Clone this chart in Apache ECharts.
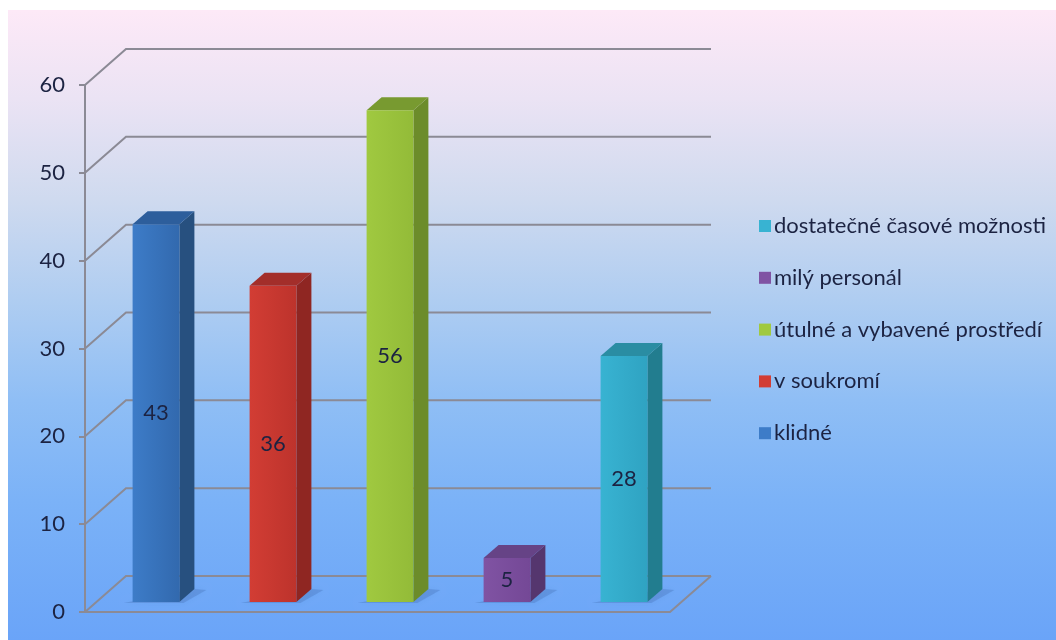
<!DOCTYPE html>
<html>
<head>
<meta charset="utf-8">
<script src="https://cdn.jsdelivr.net/npm/echarts@6/dist/echarts.min.js"></script>
<style>
  html, body { margin: 0; padding: 0; background: #ffffff; }
  #chart { width: 1056px; height: 640px; }
</style>
</head>
<body>
<div id="chart"></div>
<script>
// Survey answers: what respondents valued about the environment
const categories = ['klidné', 'v soukromí', 'útulné a vybavené prostředí', 'milý personál', 'dostatečné časové možnosti'];
const values = [43, 36, 56, 5, 28];
const yTicks = [0, 10, 20, 30, 40, 50, 60];

// Face colours per bar: front, side, top
const palette = [
  { front: ['#3d7cc8', '#3269ae'], side: '#27507f', top: '#2d5e9c' },
  { front: ['#d23d34', '#bd332c'], side: '#8f2622', top: '#a32e2a' },
  { front: ['#a0c940', '#93bb38'], side: '#6c8c2a', top: '#789a30' },
  { front: ['#8053a3', '#744896'], side: '#55366e', top: '#664386' },
  { front: ['#38b3d2', '#2fa3c2'], side: '#227d8f', top: '#2a8da3' }
];

// Pseudo-3D geometry (pixels)
const WALL_DX = 41, WALL_DY = -36;   // depth of the floor / back wall
const BAR_DX = 12.5, BAR_DY = -10;   // bar front plane inside the depth
const BAR_DEPTH_X = 15, BAR_DEPTH_Y = -13;
const GRID_COLOR = '#8b8a95';
const TEXT_COLOR = '#1c2342';
const FONT = 'Lato';

const chart = echarts.init(document.getElementById('chart'), null, { renderer: 'canvas' });

function wallRender(params, api) {
  const cs = params.coordSys;
  const v = api.value(1);
  const y = api.coord([0, v])[1];
  const x0 = cs.x, x1 = cs.x + cs.width;
  const style = { stroke: GRID_COLOR, lineWidth: 2, fill: null };
  const children = [
    { type: 'polyline', shape: { points: [[x0, y], [x0 + WALL_DX, y + WALL_DY], [x1 + WALL_DX, y + WALL_DY]] }, style }
  ];
  if (v === 0) {
    children.push({ type: 'polyline', shape: { points: [[x0, y], [x1, y], [x1 + WALL_DX, y + WALL_DY]] }, style });
  }
  return { type: 'group', children };
}

function barRender(idx) {
  return function (params, api) {
    const cs = params.coordSys;
    const band = cs.width / categories.length;
    const w = band * 0.4;
    const base = api.coord([api.value(0), 0]);
    const top = api.coord([api.value(0), api.value(1)]);
    const xl = base[0] + BAR_DX - w / 2, xr = xl + w;
    const yb = base[1] + BAR_DY, yt = top[1] + BAR_DY;
    const c = palette[idx];
    const dx = BAR_DEPTH_X, dy = BAR_DEPTH_Y;
    return {
      type: 'group',
      children: [
        // soft contact shadow on the floor
        { type: 'polygon', shape: { points: [[xl - 9, yb + 1], [xr + 4, yb + 1], [xr + dx + 12, yb + dy + 1], [xr + dx, yb + dy]] },
          style: { fill: 'rgba(35,65,130,0.18)', shadowBlur: 6, shadowColor: 'rgba(35,65,130,0.3)' } },
        { type: 'polygon', shape: { points: [[xr, yb], [xr + dx, yb + dy], [xr + dx, yt + dy], [xr, yt]] },
          style: { fill: c.side } },
        { type: 'polygon', shape: { points: [[xl, yt], [xl + dx, yt + dy], [xr + dx, yt + dy], [xr, yt]] },
          style: { fill: c.top } },
        { type: 'rect', shape: { x: xl, y: yt, width: w, height: yb - yt },
          style: { fill: new echarts.graphic.LinearGradient(0, 0, 1, 0, [{ offset: 0, color: c.front[0] }, { offset: 1, color: c.front[1] }]) } },
        { type: 'text', x: (xl + xr) / 2, y: (yt + yb) / 2,
          style: { text: String(api.value(1)), fill: TEXT_COLOR, font: '22px ' + FONT, align: 'center', verticalAlign: 'middle' } }
      ]
    };
  };
}

const barSeries = categories.map((name, i) => ({
  name,
  type: 'custom',
  clip: false,
  z: 3,
  itemStyle: { color: palette[i].front[0] },
  renderItem: barRender(i),
  data: [[i, values[i]]]
}));

chart.setOption({
  animation: false,
  graphic: [{
    type: 'rect', z: -10, silent: true,
    shape: { x: 8, y: 10, width: 1048, height: 630 },
    style: {
      fill: new echarts.graphic.LinearGradient(0, 0, 0, 1, [
        { offset: 0, color: '#fde9f7' },
        { offset: 0.14, color: '#ebe3f4' },
        { offset: 0.30, color: '#cfdaef' },
        { offset: 0.46, color: '#afcdf1' },
        { offset: 0.62, color: '#8fbef5' },
        { offset: 0.78, color: '#7bb2f7' },
        { offset: 1, color: '#6aa4f8' }
      ])
    }
  }],
  legend: {
    orient: 'vertical',
    left: 754,
    top: 210,
    itemWidth: 12,
    itemHeight: 12,
    itemGap: 29.8,
    icon: 'rect',
    selectedMode: false,
    data: categories.slice().reverse(),
    textStyle: { color: TEXT_COLOR, fontSize: 22, fontFamily: FONT, padding: [0, 0, 0, -2] }
  },
  grid: { left: 85, right: 386, top: 85, bottom: 28 },
  xAxis: {
    type: 'category',
    data: categories,
    show: false
  },
  yAxis: {
    type: 'value',
    min: 0, max: 60, interval: 10,
    axisLine: { show: true, lineStyle: { color: GRID_COLOR, width: 2 } },
    axisTick: { show: true, length: 6, lineStyle: { color: GRID_COLOR, width: 2 } },
    splitLine: { show: false },
    axisLabel: { color: TEXT_COLOR, fontSize: 22, fontFamily: FONT, margin: 20 }
  },
  series: [{
    type: 'custom',
    name: 'walls',
    clip: false,
    silent: true,
    z: 1,
    renderItem: wallRender,
    data: yTicks.map(v => [0, v])
  }].concat(barSeries)
});
</script>
</body>
</html>
